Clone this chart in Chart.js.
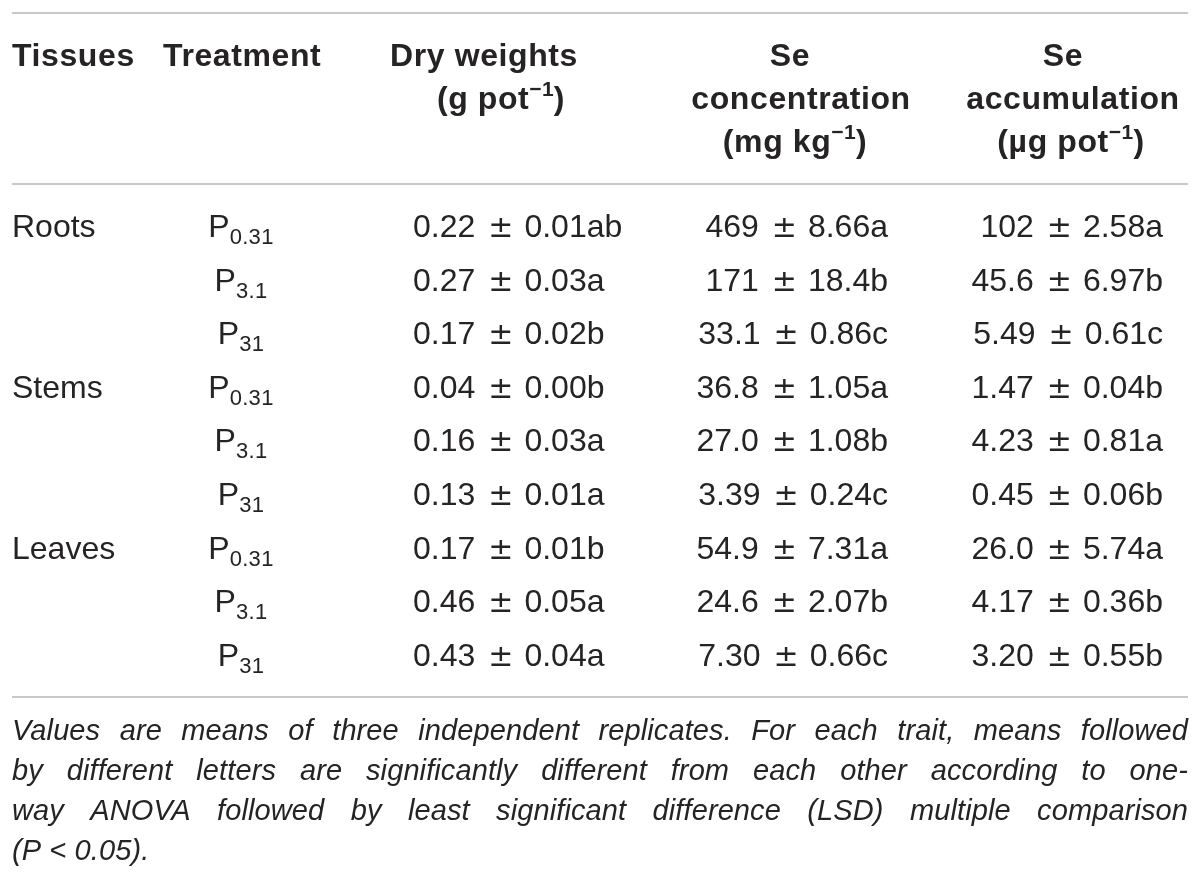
<!DOCTYPE html>
<html><head><meta charset="utf-8">
<script src="https://cdn.jsdelivr.net/npm/chart.js@4.4.1/dist/chart.umd.min.js"></script>
<style>html,body{margin:0;padding:0;background:#fff}canvas{display:block}</style>
</head><body>
<canvas id="c" width="1200" height="887" style="width:1200px;height:887px"></canvas>
<script>
// ---- data ----
const tissues = ["Roots", "Stems", "Leaves"];
const treatmentBase = "P";
const treatmentSubs = ["0.31", "3.1", "31"];
const dryMean   = ["0.22","0.27","0.17","0.04","0.16","0.13","0.17","0.46","0.43"];
const drySE     = ["0.01","0.03","0.02","0.00","0.03","0.01","0.01","0.05","0.04"];
const dryLetter = ["ab","a","b","b","a","a","b","a","a"];
const concMean   = ["469","171","33.1","36.8","27.0","3.39","54.9","24.6","7.30"];
const concSE     = ["8.66","18.4","0.86","1.05","1.08","0.24","7.31","2.07","0.66"];
const concLetter = ["a","b","c","a","b","c","a","b","c"];
const accMean   = ["102","45.6","5.49","1.47","4.23","0.45","26.0","4.17","3.20"];
const accSE     = ["2.58","6.97","0.61","0.04","0.81","0.06","5.74","0.36","0.55"];
const accLetter = ["a","b","c","b","a","b","a","b","b"];
const headerTissues = "Tissues";
const headerTreatment = "Treatment";
const headerDry = ["Dry weights", "(g pot", "\u22121", ")"];
const headerConc = ["Se", "concentration", "(mg kg", "\u22121", ")"];
const headerAcc = ["Se", "accumulation", "(\u00b5g pot", "\u22121", ")"];
const footnoteLines = [
  "Values are means of three independent replicates. For each trait, means followed",
  "by different letters are significantly different from each other according to one-",
  "way ANOVA followed by least significant difference (LSD) multiple comparison",
  "(P < 0.05)."
];

// ---- build rows ----
const rowLabels = [];
tissues.forEach(t => treatmentSubs.forEach(s => rowLabels.push(t + " " + treatmentBase + s)));

const INK = "#262324";
const FAM = '"Liberation Sans", Arial, Helvetica, sans-serif';
const F_BODY = {font: "32px " + FAM, ls: 0};
const F_PM = {font: "30px \"DejaVu Sans\", " + FAM, ls: 0};
const F_SUB = {font: "22px " + FAM, ls: 0.3};
const F_BOLD = {font: "bold 32px " + FAM, ls: 0.6};
const F_SUP = {font: "bold 21px " + FAM, ls: 0.3};
const F_NOTE = {font: "italic 29px " + FAM, ls: 0.1};

function setFont(ctx, f) {
  ctx.font = f.font;
  ctx.letterSpacing = (f.ls || 0) + "px";
}

function runWidth(ctx, r) {
  if (r.gap !== undefined) return r.gap;
  setFont(ctx, r.f);
  return ctx.measureText(r.t).width;
}

function drawRuns(ctx, runs, x, y, align) {
  let w = 0;
  runs.forEach(r => { w += runWidth(ctx, r); });
  let cx = align === "center" ? x - w / 2 : align === "right" ? x - w : x;
  runs.forEach(r => {
    const rw = runWidth(ctx, r);
    if (r.gap === undefined) {
      ctx.textAlign = "left";
      ctx.fillText(r.t, cx, y + (r.dy || 0));
    }
    cx += rw;
  });
}

function valueRuns(mean, se, letter) {
  return [{t: mean, f: F_BODY}, {gap: 13}, {t: "\u00b1", f: F_PM}, {gap: 11}, {t: se + letter, f: F_BODY}];
}

function justify(ctx, line, x0, x1, y) {
  const words = line.split(" ");
  let total = 0;
  words.forEach(w => total += ctx.measureText(w).width);
  const gap = (x1 - x0 - total) / (words.length - 1);
  let cx = x0;
  words.forEach(w => { ctx.fillText(w, cx, y); cx += ctx.measureText(w).width + gap; });
}

const tablePlugin = {
  id: "tablePlugin",
  afterDraw(chart) {
    const ctx = chart.ctx;
    const xs = chart.scales.x, ys = chart.scales.y;
    const X = v => xs.getPixelForValue(v);
    ctx.save();
    ctx.fillStyle = INK;
    ctx.textBaseline = "alphabetic";

    // rules
    ctx.strokeStyle = "#c9c9c9";
    ctx.lineWidth = 2;
    [13, 184, 697].forEach(y => {
      ctx.beginPath(); ctx.moveTo(X(12), y); ctx.lineTo(X(1188), y); ctx.stroke();
    });

    // header
    const hb = [66, 109, 152];
    drawRuns(ctx, [{t: headerTissues, f: F_BOLD}], X(12), hb[0], "left");
    drawRuns(ctx, [{t: headerTreatment, f: F_BOLD}], X(163), hb[0], "left");
    drawRuns(ctx, [{t: headerDry[0], f: F_BOLD}], X(484), hb[0], "center");
    drawRuns(ctx, [{t: headerDry[1], f: F_BOLD}, {t: headerDry[2], f: F_SUP, dy: -13}, {t: headerDry[3], f: F_BOLD}], X(501), hb[1], "center");
    drawRuns(ctx, [{t: headerConc[0], f: F_BOLD}], X(790), hb[0], "center");
    drawRuns(ctx, [{t: headerConc[1], f: F_BOLD}], X(801), hb[1], "center");
    drawRuns(ctx, [{t: headerConc[2], f: F_BOLD}, {t: headerConc[3], f: F_SUP, dy: -13}, {t: headerConc[4], f: F_BOLD}], X(795), hb[2], "center");
    drawRuns(ctx, [{t: headerAcc[0], f: F_BOLD}], X(1063), hb[0], "center");
    drawRuns(ctx, [{t: headerAcc[1], f: F_BOLD}], X(1073), hb[1], "center");
    drawRuns(ctx, [{t: headerAcc[2], f: F_BOLD}, {t: headerAcc[3], f: F_SUP, dy: -13}, {t: headerAcc[4], f: F_BOLD}], X(1071), hb[2], "center");

    // body rows
    rowLabels.forEach((lab, i) => {
      const yb = ys.getPixelForValue(i) + 11;
      if (i % treatmentSubs.length === 0) {
        drawRuns(ctx, [{t: tissues[i / treatmentSubs.length], f: F_BODY}], X(12), yb, "left");
      }
      drawRuns(ctx, [{t: treatmentBase, f: F_BODY}, {t: treatmentSubs[i % treatmentSubs.length], f: F_SUB, dy: 7}], X(241), yb, "center");
      drawRuns(ctx, valueRuns(dryMean[i], drySE[i], dryLetter[i]), X(413), yb, "left");
      drawRuns(ctx, valueRuns(concMean[i], concSE[i], concLetter[i]), X(888), yb, "right");
      drawRuns(ctx, valueRuns(accMean[i], accSE[i], accLetter[i]), X(1163), yb, "right");
    });

    // footnote
    setFont(ctx, F_NOTE);
    ctx.textAlign = "left";
    footnoteLines.forEach((line, k) => {
      const y = 740 + k * 40;
      if (k < footnoteLines.length - 1) justify(ctx, line, X(12), X(1188), y);
      else ctx.fillText(line, X(12), y);
    });
    ctx.restore();
  }
};

new Chart(document.getElementById("c"), {
  type: "scatter",
  data: { labels: rowLabels, datasets: [{ data: [], pointRadius: 0 }] },
  options: {
    responsive: false,
    animation: false,
    events: [],
    layout: { padding: { top: 199.2, bottom: 205.4, left: 0, right: 0 } },
    plugins: { legend: { display: false }, tooltip: { enabled: false } },
    scales: {
      x: { type: "linear", min: 0, max: 1200, display: false },
      y: { type: "category", labels: rowLabels, offset: true, display: false }
    }
  },
  plugins: [tablePlugin]
});
</script>
</body></html>
